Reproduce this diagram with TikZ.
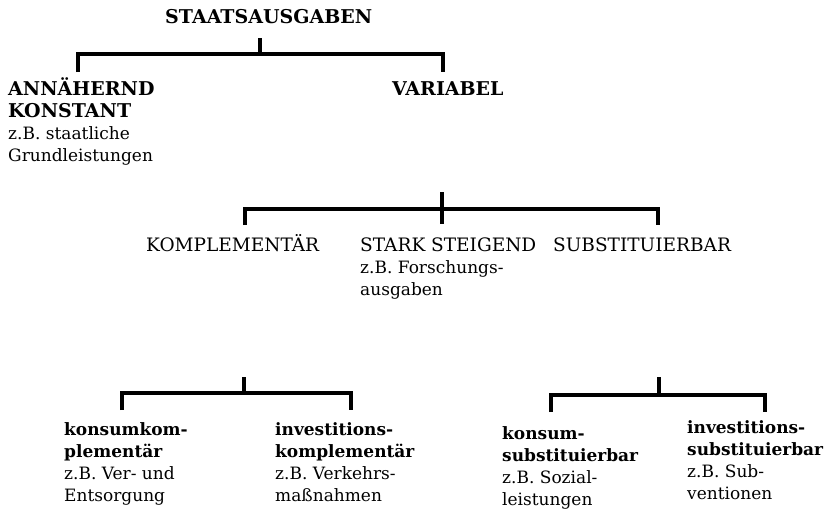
\documentclass[tikz,border=0pt]{standalone}
\usepackage{fontspec}
\setmainfont{DejaVu Serif}
\newcommand\capsB[1]{{\fontsize{19}{22}\selectfont\bfseries #1}}
\newcommand\capsR[1]{{\fontsize{18.5}{22}\selectfont #1}}
\newcommand\lowB[1]{{\fontsize{17}{22}\selectfont\bfseries #1}}
\newcommand\tstrut{\rule{0pt}{20pt}}
\begin{document}
\begin{tikzpicture}[x=1pt,y=-1pt,
  lbl/.style={anchor=north west, inner sep=0pt, align=left, font=\fontsize{17}{22}\selectfont},
  brk/.style={line width=3.2pt, line cap=butt, line join=miter}]
\useasboundingbox (0,0) rectangle (833,512);

% level 0
\node[lbl] (root) at (165,3) {\tstrut\capsB{STAATSAUSGABEN}};
% level 1
\node[lbl] (konst) at (8,75) {\tstrut\capsB{ANNÄHERND}\\\capsB{KONSTANT}\\z.B. staatliche\\Grundleistungen};
\node[lbl] (var) at (392,75) {\tstrut\capsB{VARIABEL}};
% level 2
\node[lbl] (kompl) at (146,231) {\tstrut\capsR{KOMPLEMENTÄR}};
\node[lbl] (stark) at (360,231) {\tstrut\capsR{STARK STEIGEND}\\z.B. Forschungs-\\ausgaben};
\node[lbl] (subst) at (553,231) {\tstrut\capsR{SUBSTITUIERBAR}};
% level 3
\node[lbl] (kk) at (64,415) {\tstrut\lowB{konsumkom-}\\\lowB{plementär}\\z.B. Ver- und\\Entsorgung};
\node[lbl] (ik) at (275,415) {\tstrut\lowB{investitions-}\\\lowB{komplementär}\\z.B. Verkehrs-\\maßnahmen};
\node[lbl] (ks) at (502,419) {\tstrut\lowB{konsum-}\\\lowB{substituierbar}\\z.B. Sozial-\\leistungen};
\node[lbl] (is) at (687,413) {\tstrut\lowB{investitions-}\\\lowB{substituierbar}\\z.B. Sub-\\ventionen};

% bracket 1
\coordinate (r0) at (260,38);
\coordinate (j0) at (260,54);
\coordinate (a0) at (78,72);
\coordinate (b0) at (443,72);
\draw[brk] (r0) -- (j0);
\draw[brk] (a0) |- (j0) -| (b0);

% bracket 2
\coordinate (r1) at (442,192);
\coordinate (s1) at (442,224);
\coordinate (j1) at (442,209);
\coordinate (a1) at (245,225);
\coordinate (b1) at (658,225);
\draw[brk] (r1) -- (s1);
\draw[brk] (a1) |- (j1) -| (b1);

% bracket 3 (left)
\coordinate (r2) at (244,377);
\coordinate (j2) at (244,393);
\coordinate (a2) at (122,410);
\coordinate (b2) at (351,410);
\draw[brk] (r2) -- (j2);
\draw[brk] (a2) |- (j2) -| (b2);

% bracket 4 (right)
\coordinate (r3) at (659,377);
\coordinate (j3) at (659,395);
\coordinate (a3) at (551,412);
\coordinate (b3) at (765,412);
\draw[brk] (r3) -- (j3);
\draw[brk] (a3) |- (j3) -| (b3);
\end{tikzpicture}
\end{document}
